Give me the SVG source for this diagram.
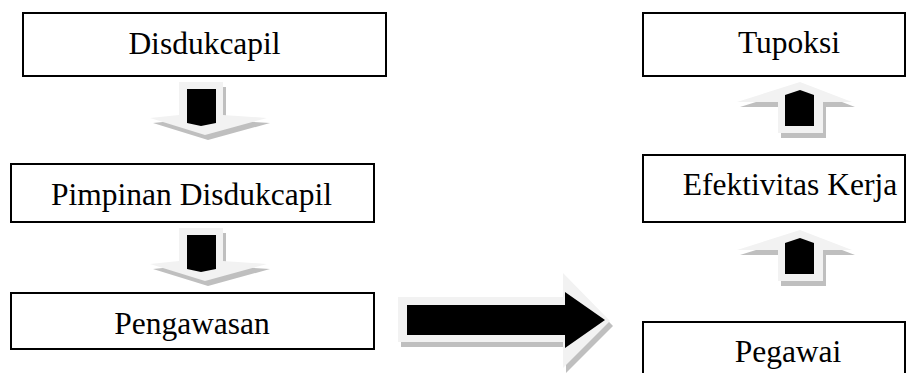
<svg xmlns="http://www.w3.org/2000/svg" width="922" height="373" viewBox="0 0 922 373">
  <style>
    .box { fill: #ffffff; stroke: #000000; stroke-width: 2; }
    .label { font-family: 'Liberation Serif', 'DejaVu Serif', serif; font-size: 31.5px; fill: #000000; text-anchor: middle; }
    .shade { fill: #bfbfbf; }
    .light { fill: #f2f2f2; }
    .core { fill: #000000; }
  </style>
  <defs>
    <!-- block arrow pointing down, origin at top-left of shaft bounding box -->
    <g id="arrowDown">
      <polygon class="shade" points="32,5 76,5 76,38 120,41 58,58 3,41 32,38"/>
      <polygon class="light" points="29,0 73,0 73,33 117,36 55,53 0,36 29,33"/>
      <polygon class="core" points="37,7 66,7 66,41 51,44 37,41"/>
    </g>
    <!-- block arrow pointing up, origin at left corner of head bounding box -->
    <g id="arrowUp">
      <polygon class="shade" points="3,25 66,5 118,25 89,25 89,56 44,56 44,25"/>
      <polygon class="light" points="0,20 63,0 115,20 86,20 86,51 41,51 41,20"/>
      <polygon class="core" points="48,13 63,8 77,13 77,44 48,44"/>
    </g>
  </defs>

  <g id="connectors">
    <use href="#arrowDown" x="150" y="82"/>
    <use href="#arrowDown" x="150" y="228"/>
    <use href="#arrowUp" x="737" y="82"/>
    <use href="#arrowUp" x="737" y="230"/>
    <!-- large arrow from Pengawasan to Pegawai -->
    <g id="arrowRight">
      <polygon class="shade" points="401,302 566,302 566,278 613,326 566,373 566,347 401,347"/>
      <polygon class="light" points="398,297 563,297 563,273 610,321 563,368 563,342 398,342"/>
      <polygon class="core" points="407,305 565,305 565,292 605,320 565,348 565,335 407,335"/>
    </g>
  </g>

  <g id="node-disdukcapil">
    <rect class="box" x="23" y="13" width="363" height="63"/>
    <text class="label" x="204.5" y="54">Disdukcapil</text>
  </g>
  <g id="node-pimpinan">
    <rect class="box" x="11" y="164" width="363" height="58"/>
    <text class="label" x="191.5" y="205">Pimpinan Disdukcapil</text>
  </g>
  <g id="node-pengawasan">
    <rect class="box" x="11" y="293" width="363" height="56"/>
    <text class="label" x="192" y="334">Pengawasan</text>
  </g>
  <g id="node-tupoksi">
    <rect class="box" x="643" y="13" width="262" height="63"/>
    <text class="label" x="789" y="53">Tupoksi</text>
  </g>
  <g id="node-efektivitas">
    <rect class="box" x="643" y="155" width="262" height="67"/>
    <text class="label" x="790" y="195">Efektivitas Kerja</text>
  </g>
  <g id="node-pegawai">
    <!-- box continues past the lower edge of the canvas -->
    <rect class="box" x="643" y="322" width="262" height="70"/>
    <text class="label" x="788" y="362">Pegawai</text>
  </g>
</svg>
